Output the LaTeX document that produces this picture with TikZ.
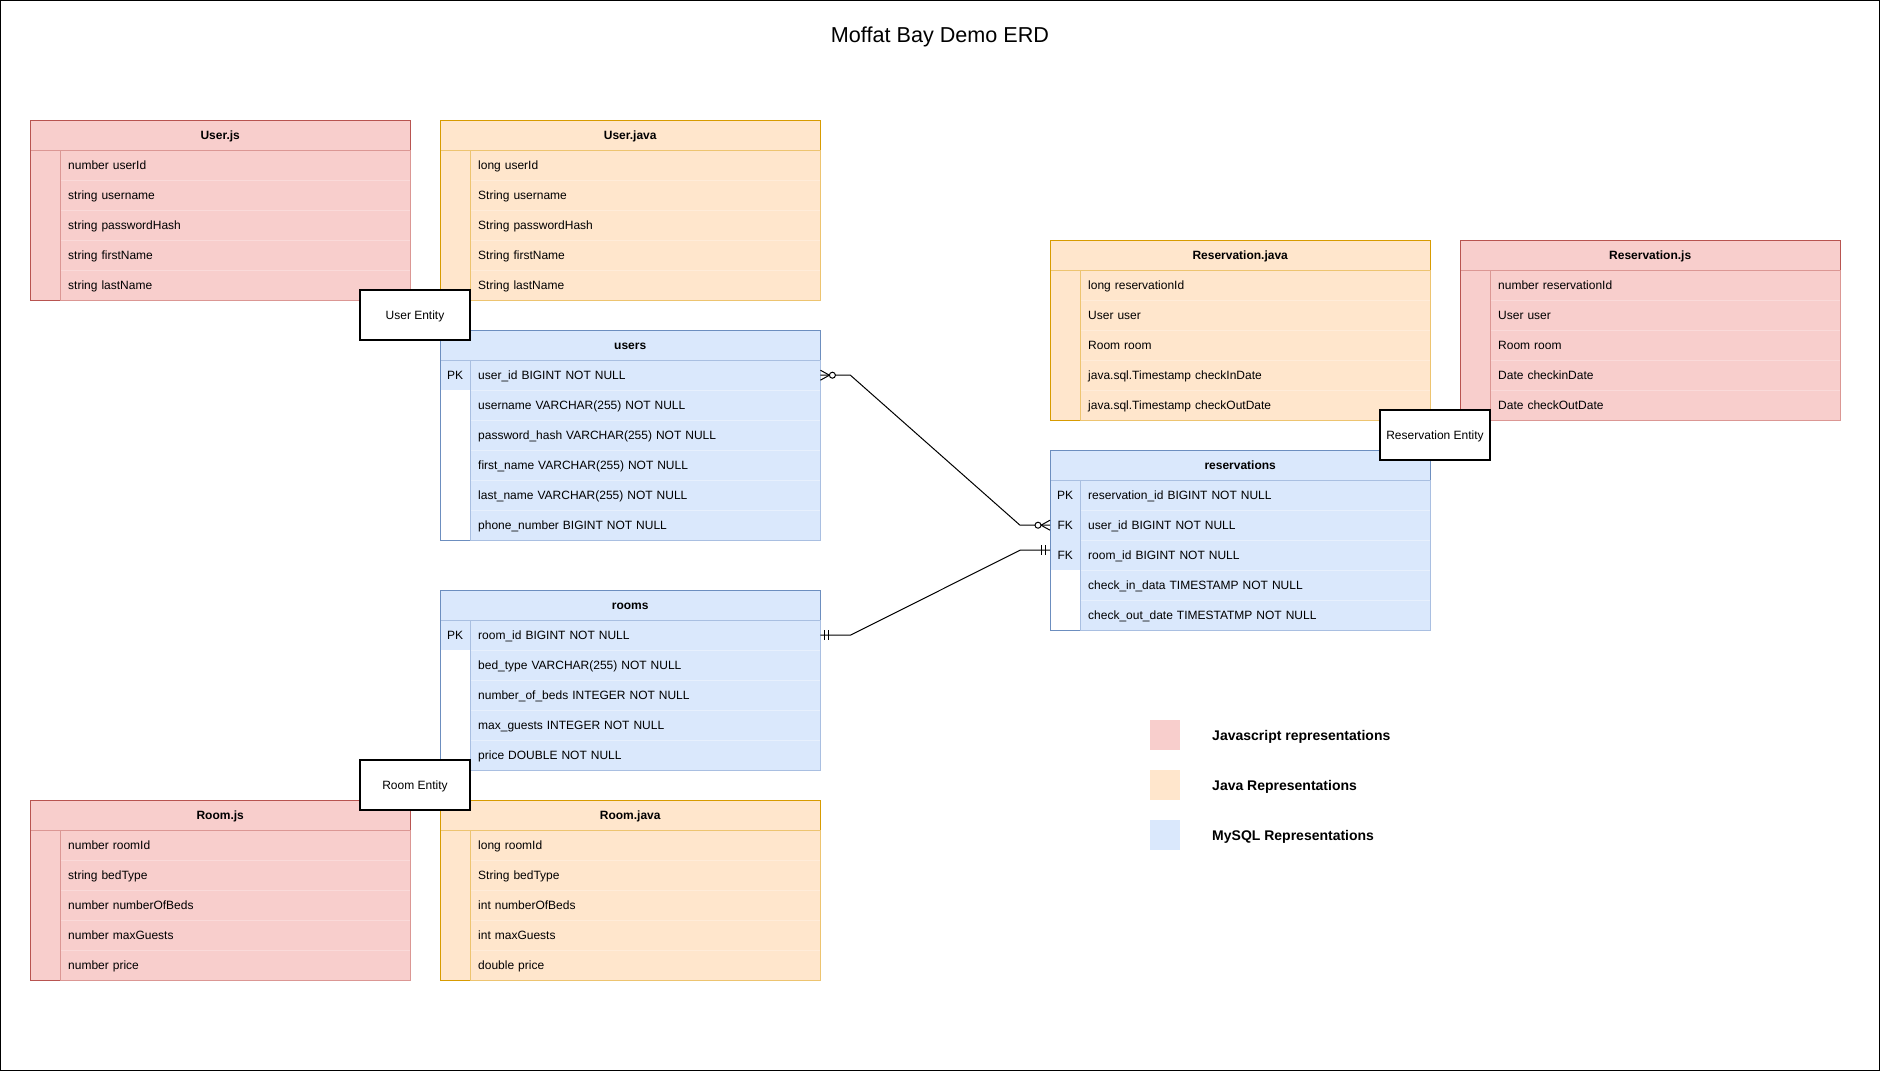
\documentclass[tikz,border=0pt]{standalone}
\usepackage{fontspec}
\setmainfont{Liberation Sans}
\usetikzlibrary{calc}
\definecolor{jsfill}{HTML}{F8CECC}
\definecolor{jsstroke}{HTML}{B85450}
\definecolor{jvfill}{HTML}{FFE6CC}
\definecolor{jvstroke}{HTML}{D79B00}
\definecolor{sqfill}{HTML}{DAE8FC}
\definecolor{sqstroke}{HTML}{6C8EBF}
\colorlet{jsinner}{jsstroke!45!jsfill}
\colorlet{jvinner}{jvstroke!45!jvfill}
\colorlet{sqinner}{sqstroke!45!sqfill}
\colorlet{jssep}{jsfill!75!white}
\colorlet{jvsep}{jvfill!75!white}
\colorlet{sqsep}{sqfill!65!white}
\tikzset{
  tabhead/.style={minimum width=380pt, minimum height=30pt, inner sep=0pt,
    text height=8pt, text depth=0pt,
    font=\fontsize{12}{14}\selectfont\bfseries, anchor=north west},
  keycell/.style={minimum width=30pt, minimum height=30pt, inner sep=0pt,
    text height=8pt, text depth=0pt,
    font=\fontsize{12}{14}\selectfont, anchor=north west},
  rowcell/.style={text width=334pt, align=left, inner xsep=8pt, inner ysep=0pt,
    text height=8pt, text depth=0pt,
    minimum height=30pt, font=\fontsize{12}{14}\selectfont, anchor=north west},
  sepline/.style={line width=0.8pt},
  innerline/.style={line width=1pt},
  outerline/.style={line width=1pt},
  entitybox/.style={draw=black, fill=white, line width=1.3pt, minimum width=110pt,
    minimum height=50pt, inner sep=0pt, text height=8pt, text depth=0pt,
    font=\fontsize{12}{14}\selectfont},
  conn/.style={draw=black, line width=1pt},
  legsq/.style={minimum width=30pt, minimum height=30pt, inner sep=0pt},
  legtext/.style={anchor=west, inner sep=0pt, text height=10pt, text depth=0pt,
    font=\fontsize{14}{16}\selectfont\bfseries},
  titletext/.style={inner sep=0pt, text height=15.5pt, text depth=0pt,
    font=\fontsize{21.6}{26}\selectfont},
}
% #1 name, #2 x, #3 y, #4 family, #5 title, #6 number of rows, #7 rows key/keyfill/text
\newcommand\erdtable[7]{%
  \node[tabhead, fill=#4fill] (#1) at (#2,#3) {#5};
  \foreach \k/\kf/\t [count=\i] in {#7} {
    \node[keycell, fill=\kf] (#1-k\i) at ({#2},{#3+30*\i}) {\k};
    \node[rowcell, fill=#4fill] (#1-r\i) at ({#2+30},{#3+30*\i}) {\t};
  }
  \foreach \i in {2,...,#6} \draw[sepline, draw=#4sep] (#1-r\i.north west) -- (#1-r\i.north east);
  \draw[innerline, draw=#4inner] (#1-k1.north east) -- (#1-k#6.south east);
  \draw[innerline, draw=#4inner] (#1.south west) -- (#1.south east) -- (#1-r#6.south east) -- (#1-k#6.south east);
  \draw[outerline, draw=#4stroke] (#1-k#6.south east) -- (#1-k#6.south west) -- (#1.north west) -- (#1.north east) -- (#1.south east);
}
\begin{document}
\begin{tikzpicture}[x=1pt,y=-1pt]
\useasboundingbox (0,0) rectangle (1881,1072);
\fill[white] (0,0) rectangle (1881,1072);

\erdtable{userjs}{30}{120}{js}{User.js}{5}{
  /jsfill/number userId,
  /jsfill/string username,
  /jsfill/string passwordHash,
  /jsfill/string firstName,
  /jsfill/string lastName}
\erdtable{userjava}{440}{120}{jv}{User.java}{5}{
  /jvfill/long userId,
  /jvfill/String username,
  /jvfill/String passwordHash,
  /jvfill/String firstName,
  /jvfill/String lastName}
\erdtable{users}{440}{330}{sq}{users}{6}{
  PK/sqfill/user\_id BIGINT NOT NULL,
  /white/username VARCHAR(255) NOT NULL,
  /white/password\_hash VARCHAR(255) NOT NULL,
  /white/first\_name VARCHAR(255) NOT NULL,
  /white/last\_name VARCHAR(255) NOT NULL,
  /white/phone\_number BIGINT NOT NULL}
\erdtable{rooms}{440}{590}{sq}{rooms}{5}{
  PK/sqfill/room\_id BIGINT NOT NULL,
  /white/bed\_type VARCHAR(255) NOT NULL,
  /white/number\_of\_beds INTEGER NOT NULL,
  /white/max\_guests INTEGER NOT NULL,
  /white/price DOUBLE NOT NULL}
\erdtable{roomjs}{30}{800}{js}{Room.js}{5}{
  /jsfill/number roomId,
  /jsfill/string bedType,
  /jsfill/number numberOfBeds,
  /jsfill/number maxGuests,
  /jsfill/number price}
\erdtable{roomjava}{440}{800}{jv}{Room.java}{5}{
  /jvfill/long roomId,
  /jvfill/String bedType,
  /jvfill/int numberOfBeds,
  /jvfill/int maxGuests,
  /jvfill/double price}
\erdtable{resjava}{1050}{240}{jv}{Reservation.java}{5}{
  /jvfill/long reservationId,
  /jvfill/User user,
  /jvfill/Room room,
  /jvfill/java.sql.Timestamp checkInDate,
  /jvfill/java.sql.Timestamp checkOutDate}
\erdtable{resjs}{1460}{240}{js}{Reservation.js}{5}{
  /jsfill/number reservationId,
  /jsfill/User user,
  /jsfill/Room room,
  /jsfill/Date checkinDate,
  /jsfill/Date checkOutDate}
\erdtable{resv}{1050}{450}{sq}{reservations}{5}{
  PK/sqfill/reservation\_id BIGINT NOT NULL,
  FK/sqfill/user\_id BIGINT NOT NULL,
  FK/sqfill/room\_id BIGINT NOT NULL,
  /white/check\_in\_data TIMESTAMP NOT NULL,
  /white/check\_out\_date TIMESTATMP NOT NULL}

% users (zero or many) -- reservations.user_id (zero or many)
\draw[conn] (users-r1.east) -- ++(30,0) -- ($(resv-k2.west)+(-30,0)$) -- (resv-k2.west);
\draw[conn] ($(users-r1.east)+(0,-5)$) -- ($(users-r1.east)+(9,0)$) -- ($(users-r1.east)+(0,5)$);
\draw[conn, fill=white] ($(users-r1.east)+(12,0)$) circle[radius=3];
\draw[conn] ($(resv-k2.west)+(0,-5)$) -- ($(resv-k2.west)+(-9,0)$) -- ($(resv-k2.west)+(0,5)$);
\draw[conn, fill=white] ($(resv-k2.west)+(-12,0)$) circle[radius=3];

% rooms (mandatory one) -- reservations.room_id (mandatory one)
\draw[conn] (rooms-r1.east) -- ++(30,0) -- ($(resv-k3.west)+(-30,-5)$) -- ($(resv-k3.west)+(0,-5)$);
\draw[conn] ($(rooms-r1.east)+(4,-5)$) -- ++(0,10);
\draw[conn] ($(rooms-r1.east)+(8,-5)$) -- ++(0,10);
\draw[conn] ($(resv-k3.west)+(-5,-10)$) -- ++(0,10);
\draw[conn] ($(resv-k3.west)+(-9,-10)$) -- ++(0,10);

% entity labels
\node[entitybox] (userent) at (415,315) {User Entity};
\node[entitybox] (rooment) at (415,785) {Room Entity};
\node[entitybox] (resent) at (1435,435) {Reservation Entity};

% legend
\node[legsq, fill=jsfill] (lgjs) at (1165,735) {};
\node[legsq, fill=jvfill] (lgjv) at (1165,785) {};
\node[legsq, fill=sqfill] (lgsq) at (1165,835) {};
\node[legtext] (ltjs) at (1212,735) {Javascript representations};
\node[legtext] (ltjv) at (1212,785) {Java Representations};
\node[legtext] (ltsq) at (1212,835) {MySQL Representations};

% title
\node[titletext] (title) at (940,35) {Moffat Bay Demo ERD};

% frame
\draw[line width=1.3pt] (0.7,0.7) rectangle (1879.5,1070.3);
\end{tikzpicture}
\end{document}
